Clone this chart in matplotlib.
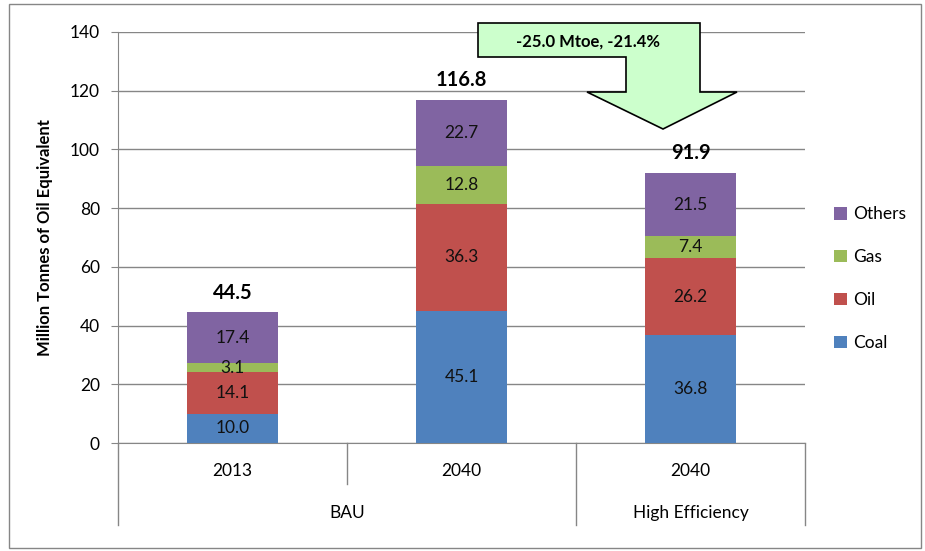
import matplotlib
matplotlib.use("Agg")
import matplotlib.pyplot as plt
from matplotlib.patches import Polygon, Rectangle
import numpy as np

plt.rcParams['font.family'] = ['Lato', 'DejaVu Sans']

# data
years = ["2013", "2040", "2040"]
groups = ["BAU", "High Efficiency"]
fuels = ["Coal", "Oil", "Gas", "Others"]
coal = [10.0, 45.1, 36.8]
oil = [14.1, 36.3, 26.2]
gas = [3.1, 12.8, 7.4]
others = [17.4, 22.7, 21.5]
totals = [44.5, 116.8, 91.9]
change_text = "-25.0 Mtoe, -21.4%"
colors = ["#4F81BD", "#C0504D", "#9BBB59", "#8064A2"]

W, H = 925, 551
fig = plt.figure(figsize=(W / 100, H / 100), dpi=100)
ax = fig.add_axes([118 / W, 1 - 443 / H, (805 - 118) / W, (443 - 32) / H])

fs = 12.5
x = np.arange(len(years))
bottom = np.zeros(len(years))
bars = []
for vals, c, name in zip([coal, oil, gas, others], colors, fuels):
    b = ax.bar(x, vals, 0.4, bottom=bottom, color=c, label=name, zorder=3)
    for xi, v, bt in zip(x, vals, bottom):
        ax.text(xi, bt + v / 2, f"{v:.1f}", ha="center", va="center",
                fontsize=fs, color="#111111", zorder=4)
    bottom += np.array(vals)
    bars.append(b)

for xi, t in zip(x, totals):
    ax.annotate(f"{t:.1f}", (xi, t), xytext=(0, 7), textcoords="offset points",
                ha="center", va="bottom", fontsize=14.5, fontweight="bold")

ax.set_xlim(-0.5, 2.5)
ax.set_ylim(0, 140)
ax.set_yticks(range(0, 141, 20))
ax.yaxis.grid(True, color="#868686", linewidth=1, zorder=0)
ax.set_axisbelow(True)
for s in ["top", "right"]:
    ax.spines[s].set_visible(False)
ax.spines["left"].set_color("#868686")
ax.spines["bottom"].set_color("#868686")
ax.tick_params(axis="y", length=5, color="#868686", labelsize=fs, pad=8)
ax.set_xticks([])
ax.set_ylabel("Million Tonnes of Oil Equivalent", fontsize=12, fontweight="bold", labelpad=12)

# category axis (two levels)
tr = ax.get_xaxis_transform()
for xb, yb in [(-0.5, -0.1995), (0.5, -0.0998), (1.5, -0.1995), (2.5, -0.1995)]:
    ax.plot([xb, xb], [0, yb], color="#868686", lw=1, transform=tr, clip_on=False)
for xi, yr in zip(x, years):
    ax.text(xi, -0.068, yr, ha="center", va="center", fontsize=fs, transform=tr)
ax.text(0.5, -0.17, groups[0], ha="center", va="center", fontsize=fs, transform=tr)
ax.text(2.0, -0.17, groups[1], ha="center", va="center", fontsize=fs, transform=tr)

# legend
handles = bars[::-1]
ax.legend(handles, fuels[::-1], loc="center left", bbox_to_anchor=(1.02, 0.40),
          frameon=False, fontsize=fs, handlelength=0.75, handleheight=0.75,
          handletextpad=0.35, labelspacing=1.55)

# callout arrow
pts = [(478, 23), (700, 23), (700, 92), (737, 92), (663, 129), (587, 92),
       (626, 92), (626, 57), (478, 57)]
arrow = Polygon([(px / W, 1 - py / H) for px, py in pts], closed=True,
                transform=fig.transFigure, facecolor="#CCFFCC", edgecolor="black",
                linewidth=1.2, zorder=5)
fig.add_artist(arrow)
fig.text(588 / W, 1 - 42 / H, change_text, ha="center", va="center",
         fontsize=12, fontweight="bold", zorder=6)

# outer border
fig.add_artist(Rectangle((9 / W, 1 - 548 / H), (921 - 9) / W, (548 - 4) / H,
                         transform=fig.transFigure, fill=False,
                         edgecolor="#868686", linewidth=1))

fig.savefig("out.png", dpi=100)
